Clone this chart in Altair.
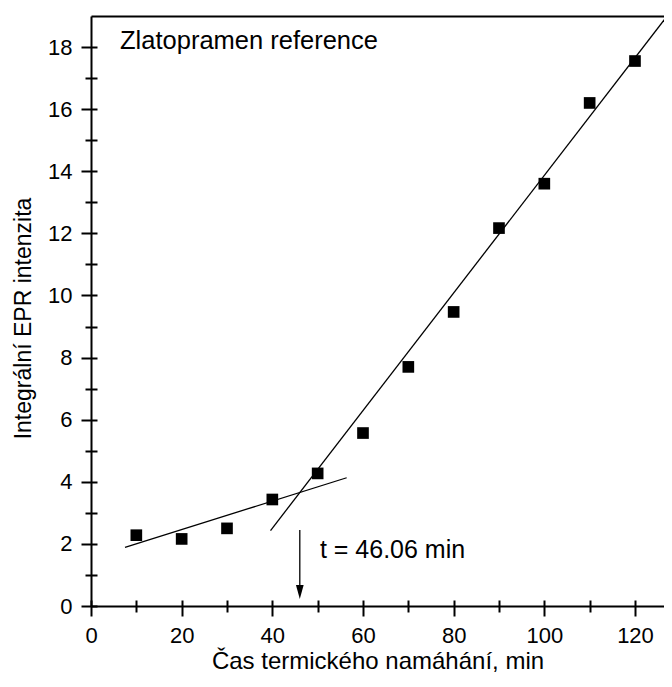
import altair as alt
import pandas as pd

# ---- data ----
time_min = [10, 20, 30, 40, 50, 60, 70, 80, 90, 100, 110, 120]
intensity = [2.28, 2.16, 2.50, 3.43, 4.27, 5.57, 7.70, 9.47, 12.17, 13.60, 16.20, 17.55]

low_fit_x = [7.5, 56.4]
low_fit_y = [1.89, 4.13]
high_fit_x = [39.6, 127.1]
high_fit_y = [2.43, 19.0]

x_major = [0, 20, 40, 60, 80, 100, 120]
x_minor = [10, 30, 50, 70, 90, 110]
y_major = [0, 2, 4, 6, 8, 10, 12, 14, 16, 18]
y_minor = [1, 3, 5, 7, 9, 11, 13, 15, 17]

onset_time = 46.06
label_text = "Zlatopramen reference"
onset_text = "t = 46.06 min"
x_title = "Čas termického namáhání, min"
y_title = "Integrální EPR intenzita"

X_DOMAIN = [0, 126.4]
Y_DOMAIN = [0, 19]
FONT = "Liberation Sans"

points = pd.DataFrame({"t": time_min, "v": intensity})
fits = pd.DataFrame({
    "t": low_fit_x + high_fit_x,
    "v": low_fit_y + high_fit_y,
    "seg": ["low", "low", "high", "high"],
})
one = pd.DataFrame({"k": [0]})


def xsc():
    return alt.Scale(domain=X_DOMAIN, nice=False, zero=False)


def ysc():
    return alt.Scale(domain=Y_DOMAIN, nice=False, zero=False)


def xs(axis):
    return alt.X("t:Q", scale=xsc(), axis=axis)


def ys(axis):
    return alt.Y("v:Q", scale=ysc(), axis=axis)


main_x_axis = alt.Axis(
    orient="bottom", values=x_major, tickSize=10, tickWidth=2, domainWidth=2,
    labelFontSize=22, labelPadding=9, labelFont=FONT, labelFlush=False,
    title=x_title, titleFontSize=24, titleFontWeight="normal", titleFont=FONT,
    titleY=62, titleBaseline="alphabetic", format="d",
)
main_y_axis = alt.Axis(
    orient="left", values=y_major, tickSize=10, tickWidth=2, domainWidth=2,
    labelFontSize=22, labelPadding=9, labelFont=FONT, labelFlush=False,
    title=y_title, titleFontSize=23, titleFontWeight="normal", titleFont=FONT,
    titleX=-68, titleY=302, titleAngle=270, titleBaseline="middle", format="d",
)

pts = alt.Chart(points).mark_square(size=136, color="black", opacity=1).encode(
    x=xs(main_x_axis), y=ys(main_y_axis)
)

# minor ticks (outward)
minor = alt.Chart(one).mark_square(opacity=0).encode(
    x=alt.XDatum(0, scale=xsc(), axis=alt.Axis(
        orient="bottom", values=x_minor, tickSize=6, tickWidth=2,
        labels=False, domain=False, title=None)),
    y=alt.YDatum(0, scale=ysc(), axis=alt.Axis(
        orient="left", values=y_minor, tickSize=6, tickWidth=2,
        labels=False, domain=False, title=None)),
)

# inward parts of all ticks
inward = alt.Chart(one).mark_square(opacity=0).encode(
    x=alt.XDatum(0, scale=xsc(), axis=alt.Axis(
        orient="bottom", offset=-6, values=x_major + x_minor, tickSize=6,
        tickWidth=2, labels=False, domain=False, title=None)),
    y=alt.YDatum(0, scale=ysc(), axis=alt.Axis(
        orient="left", offset=-6, values=y_major + y_minor, tickSize=6,
        tickWidth=2, labels=False, domain=False, title=None)),
)

# top frame line
top = alt.Chart(one).mark_square(opacity=0).encode(
    x=alt.XDatum(0, scale=xsc(), axis=alt.Axis(
        orient="top", ticks=False, labels=False, domain=True,
        domainWidth=2, title=None)),
    y=alt.YDatum(0, scale=ysc(), axis=None),
)

lines = alt.Chart(fits).mark_line(color="black", strokeWidth=1.3, clip=True).encode(
    x=xs(None), y=ys(None), detail="seg:N"
)

arrow = alt.Chart(one).mark_rule(color="black", strokeWidth=1.3).encode(
    x=alt.XDatum(onset_time, scale=xsc(), axis=None),
    y=alt.YDatum(2.45, scale=ysc(), axis=None),
    y2=alt.Y2Datum(0.45),
)

head = alt.Chart(one).mark_point(
    shape="M -0.55 -1 L 0.55 -1 L 0 1 Z", filled=True, size=196, color="black", opacity=1
).encode(
    x=alt.XDatum(onset_time, scale=xsc(), axis=None),
    y=alt.YDatum(0.45, scale=ysc(), axis=None),
)

title_txt = alt.Chart(one).mark_text(
    align="left", baseline="middle", font=FONT, fontSize=25.5, color="black"
).encode(
    x=alt.XDatum(6.4, scale=xsc(), axis=None),
    y=alt.YDatum(18.2, scale=ysc(), axis=None),
    text=alt.value(label_text),
)

onset_txt = alt.Chart(one).mark_text(
    align="left", baseline="middle", font=FONT, fontSize=25, color="black"
).encode(
    x=alt.XDatum(50.5, scale=xsc(), axis=None),
    y=alt.YDatum(1.80, scale=ysc(), axis=None),
    text=alt.value(onset_text),
)

chart = alt.layer(
    pts, minor, inward, top, lines, arrow, head, title_txt, onset_txt
).resolve_scale(x="independent", y="independent").resolve_axis(
    x="independent", y="independent"
).properties(
    width=573, height=590,
    autosize=alt.AutoSizeParams(type="none"),
    padding={"left": 83, "top": 8, "right": 0, "bottom": 75},
).configure_view(stroke=None).configure_axis(
    grid=False, domainColor="black", tickColor="black", labelColor="black",
    titleColor="black",
)

chart.save("out.html", embed_options={"renderer": "svg", "actions": False})
